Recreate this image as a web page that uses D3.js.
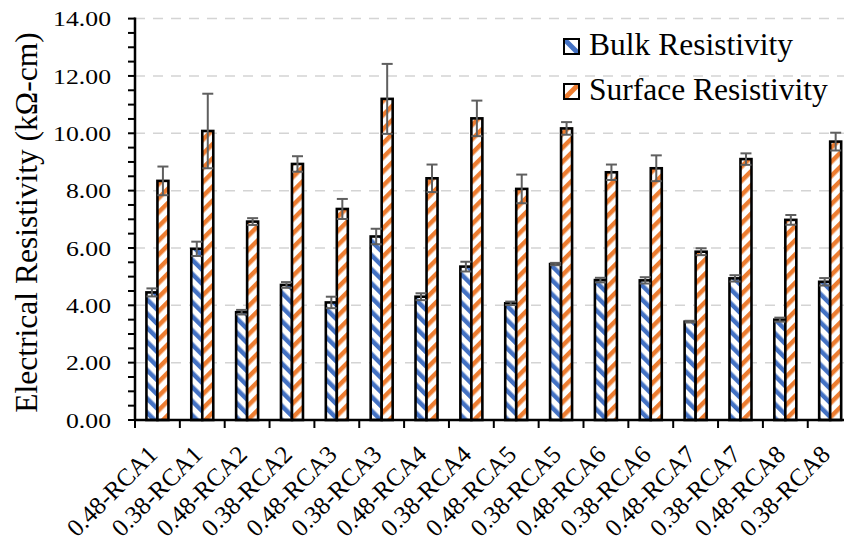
<!DOCTYPE html>
<html>
<head>
<meta charset="utf-8">
<script src="https://cdn.jsdelivr.net/npm/d3@7"></script>
<style>
  html, body { margin: 0; padding: 0; background: #fff; }
  svg { display: block; }
  text { font-family: "Liberation Serif", "Times New Roman", serif; fill: #000; }
</style>
</head>
<body>
<svg id="chart" width="844" height="541"></svg>
<script>
// Mix designations (w/c ratio - recycled aggregate series)
const categories = [
  "0.48-RCA1", "0.38-RCA1", "0.48-RCA2", "0.38-RCA2",
  "0.48-RCA3", "0.38-RCA3", "0.48-RCA4", "0.38-RCA4",
  "0.48-RCA5", "0.38-RCA5", "0.48-RCA6", "0.38-RCA6",
  "0.48-RCA7", "0.38-RCA7", "0.48-RCA8", "0.38-RCA8"
];

// Bulk resistivity, kΩ-cm (mean and standard deviation)
const bulkValues = [4.45, 5.97, 3.76, 4.71, 4.10, 6.40, 4.30, 5.35, 4.07, 5.44, 4.88, 4.87, 3.43, 4.94, 3.50, 4.82];
const bulkErrors = [0.14, 0.25, 0.08, 0.10, 0.20, 0.27, 0.12, 0.17, 0.06, 0.04, 0.08, 0.11, 0.03, 0.11, 0.07, 0.13];

// Surface resistivity, kΩ-cm (mean and standard deviation)
const surfaceValues = [8.34, 10.08, 6.92, 8.93, 7.36, 11.20, 8.43, 10.52, 8.06, 10.17, 8.64, 8.78, 5.87, 9.10, 6.98, 9.71];
const surfaceErrors = [0.50, 1.30, 0.12, 0.27, 0.35, 1.22, 0.48, 0.62, 0.50, 0.22, 0.27, 0.45, 0.12, 0.20, 0.17, 0.31];

const seriesNames = ["Bulk Resistivity", "Surface Resistivity"];
const yTicks = [0, 2, 4, 6, 8, 10, 12, 14];
const yTitle = "Electrical Resistivity (kΩ-cm)";

const svg = d3.select("#chart");

const plotLeft = 135, plotRight = 852.6, plotTop = 18.6, plotBottom = 420;

const x = d3.scaleBand().domain(categories).range([plotLeft, plotRight]).padding(0);
const y = d3.scaleLinear().domain([0, 14]).range([plotBottom, plotTop]);

const barW = 11;
const colors = { bulk: "#4472C4", surface: "#ED7D31" };

// Diagonal hatch fills
const defs = svg.append("defs");
function hatch(id, color, angle) {
  const p = defs.append("pattern")
    .attr("id", id)
    .attr("patternUnits", "userSpaceOnUse")
    .attr("width", 10).attr("height", 10)
    .attr("patternTransform", `rotate(${angle})`);
  p.append("rect").attr("width", 10).attr("height", 10).attr("fill", "#fff");
  p.append("rect").attr("x", 0).attr("width", 4.5).attr("height", 10).attr("fill", color);
}
hatch("hatch-bulk", colors.bulk, -45);
hatch("hatch-surface", colors.surface, 45);

// Gridlines
svg.append("g")
  .selectAll("line")
  .data(yTicks.filter(d => d > 0))
  .join("line")
  .attr("x1", plotLeft).attr("x2", 844)
  .attr("y1", d => y(d)).attr("y2", d => y(d))
  .attr("stroke", "#d4d4d4")
  .attr("stroke-width", 1.5)
  .attr("stroke-dasharray", "10,8");

// Bars
const rows = categories.map((c, i) => ({
  cat: c,
  bulk: bulkValues[i], bulkErr: bulkErrors[i],
  surface: surfaceValues[i], surfaceErr: surfaceErrors[i]
}));

const barsG = svg.append("g");
const center = c => x(c) + x.bandwidth() / 2;

barsG.selectAll("rect.bulk")
  .data(rows).join("rect")
  .attr("class", "bulk")
  .attr("x", d => center(d.cat) - barW)
  .attr("y", d => y(d.bulk))
  .attr("width", barW)
  .attr("height", d => y(0) - y(d.bulk))
  .attr("fill", "url(#hatch-bulk)")
  .attr("stroke", "#000").attr("stroke-width", 2.6);

barsG.selectAll("rect.surface")
  .data(rows).join("rect")
  .attr("class", "surface")
  .attr("x", d => center(d.cat))
  .attr("y", d => y(d.surface))
  .attr("width", barW)
  .attr("height", d => y(0) - y(d.surface))
  .attr("fill", "url(#hatch-surface)")
  .attr("stroke", "#000").attr("stroke-width", 2.6);

// Error bars
const errG = svg.append("g").attr("stroke", "#5f5f5f").attr("stroke-width", 2);
const errData = rows.flatMap(d => [
  { cx: center(d.cat) - barW / 2, v: d.bulk, e: d.bulkErr },
  { cx: center(d.cat) + barW / 2, v: d.surface, e: d.surfaceErr }
]);
const cap = 5.5;
errData.forEach(d => {
  const g = errG.append("g");
  g.append("line").attr("x1", d.cx).attr("x2", d.cx).attr("y1", y(d.v - d.e)).attr("y2", y(d.v + d.e));
  g.append("line").attr("x1", d.cx - cap).attr("x2", d.cx + cap).attr("y1", y(d.v + d.e)).attr("y2", y(d.v + d.e));
  g.append("line").attr("x1", d.cx - cap).attr("x2", d.cx + cap).attr("y1", y(d.v - d.e)).attr("y2", y(d.v - d.e));
});

// Y axis: ticks every 0.5, axis line and labels
const yAxisG = svg.append("g");
yAxisG.selectAll("line.minor")
  .data(d3.range(0, 14.01, 0.5))
  .join("line")
  .attr("x1", plotLeft - 7).attr("x2", plotLeft)
  .attr("y1", d => y(d)).attr("y2", d => y(d))
  .attr("stroke", "#000").attr("stroke-width", 2);
yAxisG.append("line")
  .attr("x1", plotLeft).attr("x2", plotLeft)
  .attr("y1", y(14) - 1).attr("y2", y(0) + 1)
  .attr("stroke", "#000").attr("stroke-width", 2.5);
yAxisG.selectAll("text")
  .data(yTicks).join("text")
  .attr("transform", d => `translate(111,${y(d)}) scale(1.17,1)`)
  .attr("dy", "0.35em")
  .attr("text-anchor", "end")
  .attr("font-size", 22)
  .text(d => d3.format(".2f")(d));

// X axis
const xAxisG = svg.append("g");
xAxisG.append("line")
  .attr("x1", plotLeft - 1).attr("x2", 844)
  .attr("y1", plotBottom).attr("y2", plotBottom)
  .attr("stroke", "#000").attr("stroke-width", 2.5);
xAxisG.selectAll("line.tick")
  .data(categories.concat([null]))
  .join("line")
  .attr("x1", (d, i) => plotLeft + i * x.bandwidth())
  .attr("x2", (d, i) => plotLeft + i * x.bandwidth())
  .attr("y1", plotBottom).attr("y2", plotBottom + 8)
  .attr("stroke", "#000").attr("stroke-width", 2);
xAxisG.selectAll("text")
  .data(categories).join("text")
  .attr("transform", d => `translate(${center(d) + 1.5},${plotBottom + 36}) rotate(-45)`)
  .attr("text-anchor", "end")
  .attr("font-size", 25)
  .text(d => d);

// Axis title
svg.append("text")
  .attr("transform", `translate(37,222.5) rotate(-90)`)
  .attr("text-anchor", "middle")
  .attr("font-size", 31.5)
  .text(yTitle);

// Legend
const legend = svg.append("g");
const legendItems = [
  { name: seriesNames[0], color: colors.bulk, dir: -1, y: 39 },
  { name: seriesNames[1], color: colors.surface, dir: 1, y: 84 }
];
legendItems.forEach((d, i) => {
  const g = legend.append("g").attr("transform", `translate(564,${d.y})`);
  const s = 15;
  defs.append("clipPath").attr("id", "lg-clip-" + i)
    .append("rect").attr("width", s).attr("height", s);
  g.append("rect").attr("width", s).attr("height", s).attr("fill", "#fff");
  g.append("line")
    .attr("clip-path", `url(#lg-clip-${i})`)
    .attr("x1", 0).attr("x2", s)
    .attr("y1", d.dir < 0 ? 0 : s).attr("y2", d.dir < 0 ? s : 0)
    .attr("stroke", d.color).attr("stroke-width", 5);
  g.append("rect").attr("width", s).attr("height", s)
    .attr("fill", "none").attr("stroke", "#000").attr("stroke-width", 2);
  g.append("text")
    .attr("x", 25).attr("y", s + 1)
    .attr("font-size", 31.5)
    .text(d.name);
});
</script>
</body>
</html>
